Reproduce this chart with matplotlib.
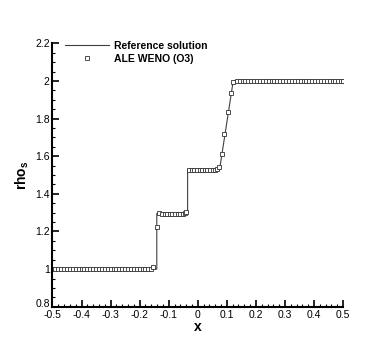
import matplotlib
matplotlib.use('Agg')
import matplotlib.pyplot as plt
import matplotlib.transforms as mtransforms
from matplotlib.ticker import MultipleLocator, FuncFormatter

plt.rcParams['font.family'] = ['Liberation Sans', 'DejaVu Sans']
plt.rcParams['mathtext.fontset'] = 'custom'
plt.rcParams['mathtext.rm'] = 'Liberation Sans'
plt.rcParams['mathtext.bf'] = 'Liberation Sans:bold'

# exacte oplossing (stapfunctie)
ref_x = [-0.5, -0.141, -0.141, -0.035, -0.035, 0.075, 0.122, 0.5]
ref_rho = [1.0, 1.0, 1.295, 1.295, 1.529, 1.529, 2.0, 2.0]

# ALE WENO (O3) celwaarden
weno_x = [-0.50, -0.49, -0.48, -0.47, -0.46, -0.45, -0.44, -0.43, -0.42, -0.41,
          -0.40, -0.39, -0.38, -0.37, -0.36, -0.35, -0.34, -0.33, -0.32, -0.31,
          -0.30, -0.29, -0.28, -0.27, -0.26, -0.25, -0.24, -0.23, -0.22, -0.21,
          -0.20, -0.19, -0.18, -0.17, -0.16, -0.153,
          -0.140,
          -0.132, -0.123, -0.114, -0.105, -0.096, -0.087, -0.078, -0.069, -0.060,
          -0.051, -0.044, -0.039,
          -0.030, -0.021, -0.012, -0.003, 0.006, 0.015, 0.024, 0.033, 0.042,
          0.051, 0.060, 0.067, 0.073,
          0.082, 0.091, 0.104, 0.113, 0.122,
          0.134, 0.144, 0.154, 0.164, 0.174, 0.184, 0.194, 0.204, 0.214, 0.224,
          0.234, 0.244, 0.254, 0.264, 0.274, 0.284, 0.294, 0.304, 0.314, 0.324,
          0.334, 0.344, 0.354, 0.364, 0.374, 0.384, 0.394, 0.404, 0.414, 0.424,
          0.434, 0.444, 0.454, 0.464, 0.474, 0.484, 0.494, 0.500]
weno_rho = [1.0, 1.0, 1.0, 1.0, 1.0, 1.0, 1.0, 1.0, 1.0, 1.0,
            1.0, 1.0, 1.0, 1.0, 1.0, 1.0, 1.0, 1.0, 1.0, 1.0,
            1.0, 1.0, 1.0, 1.0, 1.0, 1.0, 1.0, 1.0, 1.0, 1.0,
            1.0, 1.0, 1.0, 1.0, 1.0, 1.01,
            1.223,
            1.297, 1.293, 1.293, 1.293, 1.293, 1.293, 1.293, 1.293, 1.293,
            1.294, 1.296, 1.302,
            1.526, 1.528, 1.528, 1.528, 1.528, 1.528, 1.528, 1.528, 1.528,
            1.528, 1.529, 1.532, 1.543,
            1.612, 1.719, 1.837, 1.937, 1.995,
            2.0, 2.0, 2.0, 2.0, 2.0, 2.0, 2.0, 2.0, 2.0, 2.0,
            2.0, 2.0, 2.0, 2.0, 2.0, 2.0, 2.0, 2.0, 2.0, 2.0,
            2.0, 2.0, 2.0, 2.0, 2.0, 2.0, 2.0, 2.0, 2.0, 2.0,
            2.0, 2.0, 2.0, 2.0, 2.0, 2.0, 2.0, 2.0]


def tick_fmt(v, pos):
    v = round(v, 2)
    if v == 0:
        return '0'
    return f'{v:g}'


fig = plt.figure(figsize=(3.9, 3.47), dpi=100)
ax = fig.add_axes([0.1346, 0.116, 0.745, 0.759])

ax.plot(ref_x, ref_rho, color='#404040', linewidth=0.8, label='Reference solution')
ax.plot(weno_x, weno_rho, linestyle='none', marker='s', markersize=2.6,
        markerfacecolor='white', markeredgecolor='#303030', markeredgewidth=0.6,
        label='ALE WENO (O3)')

ax.set_xlim(-0.5, 0.5)
ax.set_ylim(0.8, 2.2)
ax.xaxis.set_major_locator(MultipleLocator(0.1))
ax.xaxis.set_minor_locator(MultipleLocator(0.02))
ax.yaxis.set_major_locator(MultipleLocator(0.2))
ax.yaxis.set_minor_locator(MultipleLocator(0.05))
ax.xaxis.set_major_formatter(FuncFormatter(tick_fmt))
ax.yaxis.set_major_formatter(FuncFormatter(tick_fmt))

ax.spines['top'].set_visible(False)
ax.spines['right'].set_visible(False)
ax.spines['left'].set_linewidth(1.5)
ax.spines['bottom'].set_linewidth(1.5)
ax.tick_params(which='major', direction='in', length=5, width=1.2, labelsize=7.5, pad=2)
ax.tick_params(which='minor', direction='in', length=2.5, width=0.8)

# 0.8 iets omhoog, zoals in het origineel
fig.canvas.draw()
lab = ax.get_yticklabels()[0]
for t in ax.get_yticklabels():
    if t.get_text() == '0.8':
        t.set_transform(t.get_transform() + mtransforms.ScaledTranslation(0, 3 / 72, fig.dpi_scale_trans))

ax.set_xlabel('x', fontsize=10, fontweight='bold', labelpad=0)
ax.set_ylabel(r'$\mathbf{rho}_\mathbf{s}$', fontsize=10, labelpad=3)

ax.legend(loc='upper left', bbox_to_anchor=(0.01, 1.045), frameon=False,
          prop={'size': 7.5, 'weight': 'bold'}, handlelength=4.2,
          handletextpad=0.5, labelspacing=0.25)

plt.savefig('out.png', dpi=100)
